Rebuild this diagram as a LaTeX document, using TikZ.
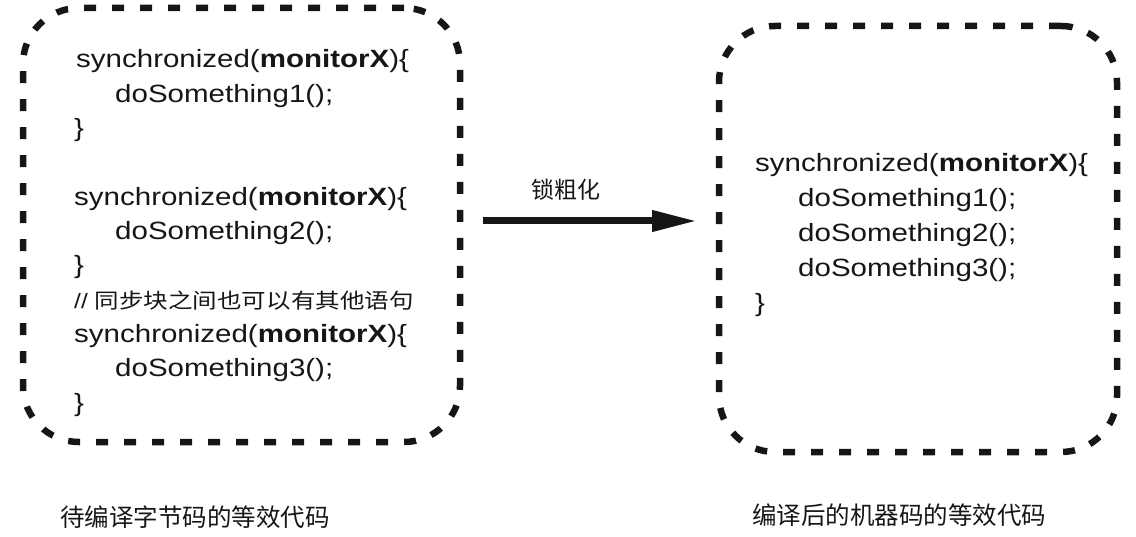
\documentclass[tikz,border=0pt]{standalone}
\usepackage{fontspec}
\usepackage{graphicx}
\setmainfont{Liberation Sans}
\newfontfamily\cjkfont{Noto Sans CJK SC}
\usetikzlibrary{arrows.meta}
\definecolor{ink}{RGB}{22,22,22}
\newcommand\wx[1]{\scalebox{1.18}[1]{#1}}
\tikzset{
  dbox/.style={draw=ink, line width=6.5pt, dash pattern=on 12pt off 16pt,
    rounded corners=56pt, inner sep=0pt, outer sep=0pt},
  code/.style={anchor=base west, inner sep=0pt, text=ink,
    font=\fontsize{25}{30}\selectfont},
  cjklabel/.style={inner sep=0pt, text=ink, font=\cjkfont\fontsize{24.5}{28}\selectfont},
  flow/.style={draw=ink, line width=7pt, -{Triangle[length=45pt,width=20pt]}}
}
\begin{document}
\begin{tikzpicture}[x=1pt,y=-1pt]
\useasboundingbox (0,0) rectangle (1136,537);
% boxes
\node[dbox, minimum width=437pt, minimum height=434pt] (L) at (241.5,225) {};
\node[dbox, minimum width=398pt, minimum height=426pt] (R) at (918,239) {};
% left code
\node[code] (l1) at (76,68) {\wx{synchronized(\textbf{monitorX})\{}};
\node[code] (l2) at (115,102.3) {\wx{doSomething1();}};
\node[code] (l3) at (74,136.6) {\wx{\}}};
\node[code] (l5) at (74,205.2) {\wx{synchronized(\textbf{monitorX})\{}};
\node[code] (l6) at (115,239.5) {\wx{doSomething2();}};
\node[code] (l7) at (74,273.8) {\wx{\}}};
\node[code, font=\fontsize{20.8}{25}\selectfont] (l8) at (74,308.1) {\wx{// {\cjkfont 同步块之间也可以有其他语句}}};
\node[code] (l9) at (74,342.4) {\wx{synchronized(\textbf{monitorX})\{}};
\node[code] (l10) at (115,376.7) {\wx{doSomething3();}};
\node[code] (l11) at (74,411) {\wx{\}}};
% right code
\node[code] (r1) at (755,172) {\wx{synchronized(\textbf{monitorX})\{}};
\node[code] (r2) at (798,207) {\wx{doSomething1();}};
\node[code] (r3) at (798,242) {\wx{doSomething2();}};
\node[code] (r4) at (798,277) {\wx{doSomething3();}};
\node[code] (r5) at (755,312) {\wx{\}}};
% arrow
\coordinate (as) at (483,221);
\coordinate (ae) at (697,221);
\draw[flow] (as) -- (ae);
\node[cjklabel, font=\cjkfont\fontsize{23}{26}\selectfont] (alab) at (566,190) {锁粗化};
% captions
\node[cjklabel] (capL) at (195,517) {待编译字节码的等效代码};
\node[cjklabel] (capR) at (899,515) {编译后的机器码的等效代码};
\end{tikzpicture}
\end{document}
